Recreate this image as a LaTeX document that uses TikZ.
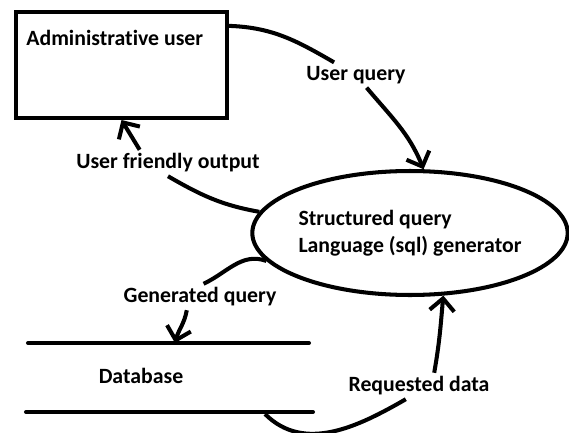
\documentclass[tikz,border=0pt]{standalone}
\usepackage{fontspec}
\setmainfont[Ligatures=NoCommon]{Carlito}
\usetikzlibrary{arrows.meta, shapes.geometric}
\begin{document}
\begin{tikzpicture}[x=0.02cm, y=-0.02cm,
   font=\bfseries\fontsize{12.4}{15.4}\selectfont,
   wire/.style={line width=2.3pt},
   flow/.style={wire, -{Straight Barb[length=7pt, width=14pt]}},
   tag/.style={inner sep=2pt}]
   \useasboundingbox (0,0) rectangle (569,433);
   % user, generator and the database store
   \node (admin) [draw, line width=2.3pt, minimum width=4.22cm, minimum height=2.12cm] at (121.5,65) {};
   \node (admintxt) [anchor=base west, inner sep=0] at (26,45) {Administrative user};
   \node (sql) [draw, ellipse, line width=2.3pt, inner sep=0, minimum width=6.28cm, minimum height=2.48cm, align=left] at (410,233) {Structured query\\Language (sql) generator};
   \coordinate (dbtl) at (28,343);
   \coordinate (dbtr) at (309,343);
   \coordinate (dbbl) at (26,412);
   \coordinate (dbbr) at (313,412);
   \draw [wire, line cap=round] (dbtl) -- (dbtr);
   \draw [wire, line cap=round] (dbbl) -- (dbbr);
   \node (db) at (141,376) {Database};
   % labels on the flows
   \node (uq) [tag] at (356,75) {User query};
   \node (ufo) [tag] at (168,163) {User friendly output};
   \node (gq) [tag] at (200,297) {Generated query};
   \node (rd) [tag] at (419,386) {Requested data};
   \coordinate (gqend) at (175,343);
   \coordinate (rdstart) at (265,414);
   % flows
   \draw [wire] (admin.20) to[out=-2, in=150] (uq);
   \draw [flow] (uq) to[out=-50, in=112] (sql.78);
   \draw [wire] (sql.172) to[out=170, in=-30] (ufo.south);
   \draw [flow] (ufo.155) -- (admin.south);
   \draw [wire] (sql.191) to[out=160, in=25] (gq.75);
   \draw [flow] (gq.225) to[out=-100, in=75] (gqend);
   \draw [wire] (rdstart) to[out=-45, in=-150] (rd.225);
   \draw [flow] (rd.41) to[out=80, in=-95] (sql.-62);
\end{tikzpicture}
\end{document}
